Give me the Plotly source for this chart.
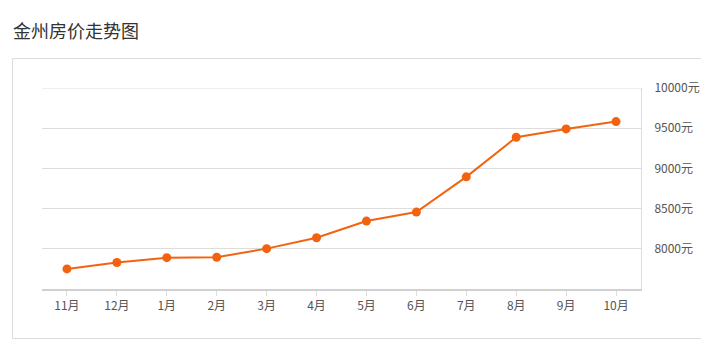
import plotly.graph_objects as go

months = ["11月", "12月", "1月", "2月", "3月", "4月", "5月", "6月", "7月", "8月", "9月", "10月"]
prices = [7750, 7830, 7890, 7895, 8002, 8137, 8345, 8457, 8895, 9387, 9491, 9582]
y_ticks = [8000, 8500, 9000, 9500, 10000]
y_tick_labels = [f"{v}元" for v in y_ticks]

FONT = "Noto Sans CJK SC"
W, H = 701, 356
L, R, T, B = 42, 60, 88, 67
pw, ph = W - L - R, H - T - B

def px_x(p):
    return (p - L) / pw

def px_y(p):
    return (H - B - p) / ph

fig = go.Figure()
fig.add_trace(go.Scatter(
    x=list(range(len(months))), y=prices, mode="lines+markers",
    line=dict(color="#f2630f", width=2),
    marker=dict(color="#f2630f", size=9),
    hoverinfo="skip",
))

fig.update_layout(
    width=W, height=H,
    margin=dict(l=L, r=R, t=T, b=B, autoexpand=False),
    paper_bgcolor="white", plot_bgcolor="white",
    showlegend=False,
    font=dict(family=FONT, size=12, color="#555"),
    xaxis=dict(
        range=[-0.5, len(months) - 0.5],
        tickvals=list(range(len(months))), ticktext=months,
        showgrid=False, zeroline=False,
        showline=True, linecolor="#d0d0d0", linewidth=2,
        ticks="outside", ticklen=5, tickcolor="#dddddd", tickwidth=1,
        tickfont=dict(family=FONT, size=12, color="#555"),
        automargin=False,
        fixedrange=True,
    ),
    yaxis=dict(
        side="right", range=[7500, 10000],
        tickvals=y_ticks, ticktext=y_tick_labels,
        showgrid=True, gridcolor="#dddddd", gridwidth=1,
        zeroline=False,
        showline=True, linecolor="#dddddd", linewidth=1,
        ticks="", ticklabelstandoff=10,
        tickfont=dict(family=FONT, size=12, color="#555"),
        automargin=False,
        fixedrange=True,
    ),
    shapes=[
        dict(type="rect", xref="paper", yref="paper",
             x0=px_x(12.5), x1=px_x(715), y0=px_y(338.5), y1=px_y(58.5),
             line=dict(color="#dcdcdc", width=1), layer="below"),
        dict(type="line", xref="paper", yref="y",
             x0=0, x1=1, y0=10000, y1=10000,
             line=dict(color="#dddddd", width=1), layer="below"),
    ],
    annotations=[
        dict(text="金州房价走势图", xref="paper", yref="paper",
             x=px_x(11), y=px_y(30), xanchor="left", yanchor="middle",
             showarrow=False, font=dict(family=FONT, size=18, color="#333")),
    ],
)

fig.write_html("out.html")
